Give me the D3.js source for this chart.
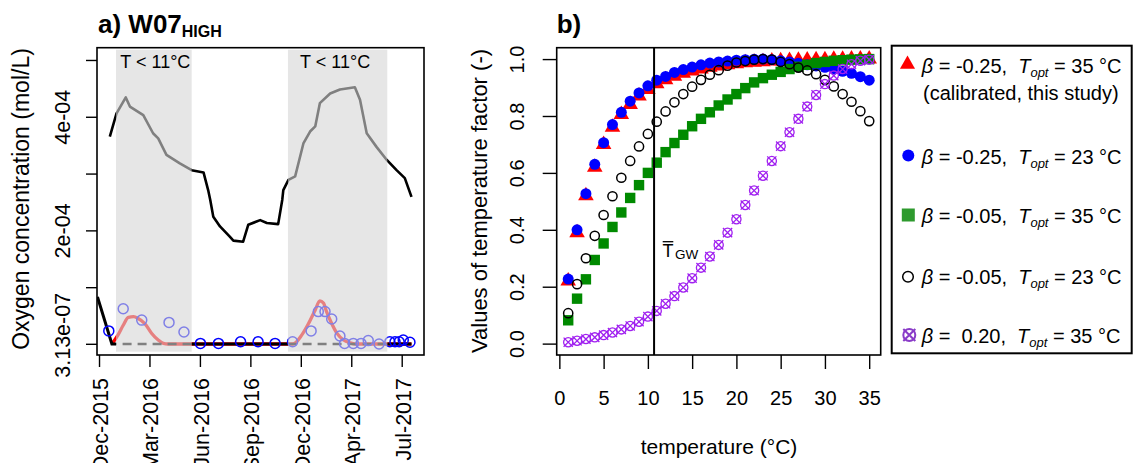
<!DOCTYPE html>
<html><head><meta charset="utf-8">
<script src="https://cdn.jsdelivr.net/npm/d3@7"></script>
<style>
body{margin:0;background:#fff}
svg{display:block;font-family:"Liberation Sans",Arial,Helvetica,sans-serif}
svg text{white-space:pre}
</style>
</head><body>
<svg id="c" width="1135" height="463"></svg>
<script>
// ---------------- Panel a data ----------------
const oxyDates = ["2015-12-22","2016-01-04","2016-01-22","2016-01-30","2016-02-25","2016-03-15","2016-03-25","2016-04-10","2016-05-06","2016-05-29","2016-06-21","2016-06-30","2016-07-04","2016-07-10","2016-07-23","2016-08-11","2016-08-18","2016-09-06","2016-09-16","2016-10-09","2016-10-22","2016-11-13","2016-11-21","2016-11-23","2016-12-03","2016-12-16","2017-01-01","2017-01-14","2017-01-24","2017-02-02","2017-02-22","2017-03-13","2017-04-11","2017-04-21","2017-05-04","2017-05-23","2017-06-12","2017-07-01","2017-07-17","2017-07-30"];
const oxyValues = [3.65e-4,4.06e-4,4.34e-4,4.18e-4,4.03e-4,3.71e-4,3.62e-4,3.33e-4,3.18e-4,3.06e-4,3.02e-4,2.71e-4,2.54e-4,2.24e-4,2.07e-4,1.89e-4,1.82e-4,1.80e-4,2.10e-4,2.18e-4,2.13e-4,2.11e-4,2.54e-4,2.71e-4,2.89e-4,2.95e-4,3.53e-4,3.74e-4,3.83e-4,4.24e-4,4.41e-4,4.48e-4,4.52e-4,4.30e-4,3.71e-4,3.47e-4,3.24e-4,3.06e-4,2.92e-4,2.59e-4];

const lowDates = ["2015-11-28","2015-12-26","2017-07-30"];
const lowValues = [0.83e-4, 0, 0];

const modelDates = ["2015-12-26","2016-01-07","2016-01-17","2016-01-27","2016-02-06","2016-02-15","2016-02-28","2016-03-12","2016-03-25","2016-04-04","2016-04-13","2016-12-12","2016-12-29","2017-01-11","2017-01-24","2017-02-02","2017-02-09","2017-02-15","2017-02-25","2017-03-07","2017-03-20","2017-04-02","2017-04-11","2017-07-30"];
const modelValues = [0,0.16e-4,0.33e-4,0.47e-4,0.48e-4,0.45e-4,0.36e-4,0.19e-4,0.07e-4,0.01e-4,0,0,0.16e-4,0.36e-4,0.60e-4,0.76e-4,0.72e-4,0.57e-4,0.36e-4,0.19e-4,0.07e-4,0.02e-4,0,0];

const obsDates = ["2015-12-20","2016-01-17","2016-02-22","2016-04-15","2016-05-14","2016-06-15","2016-07-20","2016-09-01","2016-10-05","2016-11-07","2016-12-11","2017-01-16","2017-01-30","2017-02-12","2017-02-25","2017-03-13","2017-03-22","2017-04-08","2017-04-23","2017-05-07","2017-05-28","2017-06-18","2017-06-28","2017-07-06","2017-07-14","2017-07-27"];
const obsValues = [0.23e-4,0.62e-4,0.42e-4,0.38e-4,0.21e-4,0.01e-4,0.01e-4,0.04e-4,0.04e-4,0.01e-4,0.04e-4,0.23e-4,0.57e-4,0.57e-4,0.44e-4,0.14e-4,0.01e-4,0.01e-4,0.01e-4,0.06e-4,0,0.04e-4,0.04e-4,0.04e-4,0.07e-4,0.03e-4];

const shadeStarts = ["2016-01-03","2016-12-02"];
const shadeEnds   = ["2016-05-29","2017-06-13"];
const shadeLabel = "T < 11°C";

const xTickDatesA = ["2015-12-01","2016-03-08","2016-06-14","2016-09-20","2016-12-27","2017-04-04","2017-07-11"];
const yTickValuesA = [3.13e-7,1e-4,2e-4,3e-4,4e-4,5e-4];
const yTickLabelsA = ["3.13e-07","","2e-04","","4e-04",""];

// ---------------- Panel b data ----------------
const temps = [1,2,3,4,5,6,7,8,9,10,11,12,13,14,15,16,17,18,19,20,21,22,23,24,25,26,27,28,29,30,31,32,33,34,35];
const fRed    = [0.22,0.39,0.52,0.62,0.70,0.76,0.805,0.84,0.87,0.893,0.913,0.927,0.94,0.95,0.958,0.965,0.971,0.976,0.98,0.984,0.987,0.989,0.991,0.993,0.994,0.995,0.996,0.997,0.998,0.998,0.999,0.999,1.0,1.0,1.0];
const fBlue   = [0.227,0.40,0.527,0.63,0.706,0.77,0.813,0.852,0.881,0.906,0.926,0.939,0.953,0.963,0.972,0.98,0.986,0.99,0.993,0.996,0.998,0.999,1.0,0.998,0.994,0.99,0.985,0.98,0.976,0.971,0.965,0.957,0.95,0.938,0.926];
const fGreen  = [0.082,0.158,0.226,0.294,0.352,0.41,0.461,0.512,0.557,0.60,0.636,0.673,0.705,0.734,0.764,0.79,0.813,0.837,0.858,0.877,0.898,0.918,0.933,0.945,0.955,0.965,0.973,0.98,0.986,0.99,0.994,0.996,0.998,0.999,1.0];
const fBlack  = [0.107,0.209,0.30,0.379,0.452,0.518,0.583,0.642,0.693,0.737,0.78,0.816,0.848,0.877,0.903,0.927,0.945,0.961,0.977,0.988,0.993,0.998,1.0,0.998,0.99,0.982,0.97,0.96,0.947,0.927,0.904,0.877,0.85,0.817,0.782];
const fPurple = [0.005,0.01,0.016,0.022,0.03,0.039,0.05,0.062,0.077,0.095,0.115,0.14,0.167,0.197,0.23,0.267,0.306,0.347,0.39,0.437,0.487,0.538,0.59,0.642,0.694,0.743,0.79,0.833,0.874,0.912,0.942,0.965,0.982,0.994,0.998];
const TGW = 10.7;
const xTicksB = [0,5,10,15,20,25,30,35];
const yTicksB = [0,0.2,0.4,0.6,0.8,1.0];
const legendBeta = ["-0.25","-0.25","-0.05","-0.05"," 0.20"];
const legendTopt = ["35","23","35","23","35"];

// ---------------- drawing ----------------
const parse = d3.utcParse("%Y-%m-%d");
const svg = d3.select("#c");
const defs = svg.append("defs");
const FS = 20, FSA = 21.5;

// Panel a geometry
const A = {l:97, r:424, t:47.7, b:355};
const xA = d3.scaleUtc().domain([Date.UTC(2015,10,27,2), Date.UTC(2017,7,23,7)]).range([A.l, A.r]);
const yA = d3.scaleLinear().domain([-0.194e-4, 5.216e-4]).range([A.b, A.t]);

defs.append("clipPath").attr("id","clipA").append("rect")
  .attr("x",A.l).attr("y",A.t).attr("width",A.r-A.l).attr("height",A.b-A.t);
const shades = shadeStarts.map((s,i)=>({s:parse(s), e:parse(shadeEnds[i])}));
const mask = defs.append("mask").attr("id","outShade").attr("maskUnits","userSpaceOnUse")
  .attr("x",0).attr("y",0).attr("width",1135).attr("height",463);
mask.append("rect").attr("x",0).attr("y",0).attr("width",1135).attr("height",463).attr("fill","#fff");
shades.forEach(s=>mask.append("rect").attr("x",xA(s.s)).attr("y",0).attr("width",xA(s.e)-xA(s.s)).attr("height",463).attr("fill","#000"));
const inClip = defs.append("clipPath").attr("id","inShade");
shades.forEach(s=>inClip.append("rect").attr("x",xA(s.s)).attr("y",0).attr("width",xA(s.e)-xA(s.s)).attr("height",463));

const gA = svg.append("g").attr("clip-path","url(#clipA)");
const lineA = d3.line().x(d=>xA(d.d)).y(d=>yA(d.v));
const toPts = (ds,vs)=>ds.map((d,i)=>({d:parse(d), v:vs[i]}));

// model (red)
gA.append("path").datum(toPts(modelDates,modelValues))
  .attr("d", lineA.curve(d3.curveMonotoneX)).attr("fill","none").attr("stroke","#ff0000").attr("stroke-width",3.3).attr("stroke-linejoin","round");
lineA.curve(d3.curveLinear);
// lower black line: solid outside shade, dashed inside
const lowPts = toPts(lowDates,lowValues);
gA.append("g").attr("mask","url(#outShade)").append("path").datum(lowPts)
  .attr("d",lineA).attr("fill","none").attr("stroke","#000").attr("stroke-width",3);
gA.append("g").attr("clip-path","url(#inShade)").append("path").datum(lowPts)
  .attr("d",lineA).attr("fill","none").attr("stroke","#000").attr("stroke-width",2.6).attr("stroke-dasharray","9,6");
// oxygen curve
gA.append("path").datum(toPts(oxyDates,oxyValues))
  .attr("d",lineA).attr("fill","none").attr("stroke","#000").attr("stroke-width",2.6).attr("stroke-linejoin","round");
// observed circles
gA.selectAll("circle.obs").data(toPts(obsDates,obsValues)).join("circle")
  .attr("cx",d=>xA(d.d)).attr("cy",d=>yA(d.v)).attr("r",5).attr("fill","none").attr("stroke","#0000ff").attr("stroke-width",1.5);
// shading overlay
const shTop = 5.18e-4, shBot = -0.136e-4;
gA.selectAll("rect.sh").data(shades).join("rect")
  .attr("x",d=>xA(d.s)).attr("width",d=>xA(d.e)-xA(d.s))
  .attr("y",yA(shTop)).attr("height",yA(shBot)-yA(shTop))
  .attr("fill","rgb(213,213,213)").attr("fill-opacity",0.6);
svg.selectAll("text.sl").data(shades).join("text")
  .attr("x",(d,i)=>(xA(d.s)+xA(d.e))/2 + (i===0?1.5:-2.5)).attr("y",68.3).attr("text-anchor","middle").attr("font-size",18).text(shadeLabel);

// frame a
svg.append("rect").attr("x",A.l).attr("y",A.t).attr("width",A.r-A.l).attr("height",A.b-A.t)
  .attr("fill","none").attr("stroke","#000").attr("stroke-width",1.6);

// axes a
const gxA = svg.append("g").attr("transform",`translate(0,${A.b})`)
  .call(d3.axisBottom(xA).tickValues(xTickDatesA.map(parse)).tickSize(12).tickFormat(d3.utcFormat("%b-%Y")));
gxA.select(".domain").remove();
gxA.attr("font-size",FSA).attr("font-family",null);
gxA.selectAll("line").attr("stroke-width",1.4);
gxA.selectAll("text").attr("y",null).attr("x",null).attr("dy","0.35em").attr("text-anchor","end")
  .attr("transform","translate(1,23) rotate(-90)").attr("fill","#000");

const gyA = svg.append("g").attr("transform",`translate(${A.l},0)`)
  .call(d3.axisLeft(yA).tickValues(yTickValuesA).tickSize(11).tickFormat((d,i)=>yTickLabelsA[i]));
gyA.select(".domain").remove();
gyA.attr("font-size",FSA).attr("font-family",null);
gyA.selectAll("line").attr("stroke-width",1.4);
gyA.selectAll("text").attr("x",(d,i)=>i===0?9:0).attr("dy",null).attr("text-anchor","middle")
  .attr("transform","translate(-27,0) rotate(-90)").attr("fill","#000");

svg.append("text").attr("transform","translate(28.5,199) rotate(-90)").attr("text-anchor","middle")
  .attr("font-size",23).text("Oxygen concentration (mol/L)");

const tA = svg.append("text").attr("x",98).attr("y",33.3).attr("font-size",26).attr("font-weight","bold");
tA.append("tspan").text("a) W07");
tA.append("tspan").attr("font-size",16).attr("dy",3.4).text("HIGH");

// ---------------- Panel b ----------------
const B = {l:556.7, r:880.7, t:47.7, b:355};
const xB = d3.scaleLinear().domain([-0.3,36.3]).range([B.l,B.r]);
const yB = d3.scaleLinear().domain([-0.04,1.04]).range([B.b,B.t]);
const gB = svg.append("g");
const RED="#ff0000", BLUE="#0000ff", GREEN="#008a00", PURPLE="#a020f0";
const triPath = (R)=>{const h=R*Math.sqrt(3)/2; return `M0,${-R}L${h},${R/2}L${-h},${R/2}Z`;};
const xPath = (s)=>`M${-s},${-s}L${s},${s}M${-s},${s}L${s},${-s}`;

gB.selectAll("path.red").data(temps).join("path")
  .attr("transform",(t,i)=>`translate(${xB(t)},${yB(fRed[i])})`).attr("d",triPath(9)).attr("fill",RED);
gB.selectAll("circle.blue").data(temps).join("circle")
  .attr("cx",t=>xB(t)).attr("cy",(t,i)=>yB(fBlue[i])).attr("r",5.5).attr("fill",BLUE);
gB.selectAll("rect.green").data(temps).join("rect")
  .attr("x",t=>xB(t)-5.2).attr("y",(t,i)=>yB(fGreen[i])-5.2).attr("width",10.4).attr("height",10.4).attr("fill",GREEN);
gB.selectAll("circle.blk").data(temps).join("circle")
  .attr("cx",t=>xB(t)).attr("cy",(t,i)=>yB(fBlack[i])).attr("r",4.6).attr("fill","none").attr("stroke","#000").attr("stroke-width",1.5);
const pg = gB.selectAll("g.pur").data(temps).join("g")
  .attr("transform",(t,i)=>`translate(${xB(t)},${yB(fPurple[i])})`);
pg.append("circle").attr("r",4.6).attr("fill","none").attr("stroke",PURPLE).attr("stroke-width",1.3);
pg.append("path").attr("d",xPath(4.6)).attr("stroke",PURPLE).attr("stroke-width",1.3);

// T_GW line
svg.append("line").attr("x1",xB(TGW)).attr("x2",xB(TGW)).attr("y1",B.t).attr("y2",B.b)
  .attr("stroke","#000").attr("stroke-width",2);
svg.append("text").attr("x",662.5).attr("y",256.7).attr("font-size",18).text("T");
svg.append("line").attr("x1",662.7).attr("x2",673.3).attr("y1",241.7).attr("y2",241.7).attr("stroke","#000").attr("stroke-width",1.3);
svg.append("text").attr("x",675).attr("y",258.5).attr("font-size",13.5).text("GW");

// frame b
svg.append("rect").attr("x",B.l).attr("y",B.t).attr("width",B.r-B.l).attr("height",B.b-B.t)
  .attr("fill","none").attr("stroke","#000").attr("stroke-width",1.6);

const gxB = svg.append("g").attr("transform",`translate(0,${B.b})`)
  .call(d3.axisBottom(xB).tickValues(xTicksB).tickSize(14).tickFormat(d3.format("d")));
gxB.select(".domain").remove();
gxB.attr("font-size",FS).attr("font-family",null);
gxB.selectAll("line").attr("stroke-width",1.4);
gxB.selectAll("text").attr("y",50).attr("dy",null).attr("fill","#000");

const gyB = svg.append("g").attr("transform",`translate(${B.l},0)`)
  .call(d3.axisLeft(yB).tickValues(yTicksB).tickSize(14).tickFormat(d3.format(".1f")));
gyB.select(".domain").remove();
gyB.attr("font-size",FS).attr("font-family",null);
gyB.selectAll("line").attr("stroke-width",1.4);
gyB.selectAll("text").attr("x",null).attr("dy",null).attr("text-anchor","middle")
  .attr("transform","translate(-32.7,0) rotate(-90)").attr("fill","#000");

svg.append("text").attr("transform","translate(486.5,201) rotate(-90)").attr("text-anchor","middle")
  .attr("font-size",22).text("Values of temperature factor (-)");
svg.append("text").attr("x",719).attr("y",454).attr("text-anchor","middle").attr("font-size",21).text("temperature (°C)");
svg.append("text").attr("x",556.7).attr("y",33.3).attr("font-size",26).attr("font-weight","bold").text("b)");

// ---------------- Legend ----------------
svg.append("rect").attr("x",891.7).attr("y",45.7).attr("width",240).attr("height",307.6)
  .attr("fill","#fff").attr("stroke","#000").attr("stroke-width",2);
const legY = [72.5,164,222.5,284,342.5];
legY.forEach((y,i)=>{
  const t = svg.append("text").attr("x",921.7).attr("y",y).attr("font-size",FS);
  t.append("tspan").attr("font-style","italic").text("β");
  t.append("tspan").text(" = "+legendBeta[i]+",  ");
  t.append("tspan").attr("font-style","italic").text("T");
  t.append("tspan").attr("font-style","italic").attr("font-size",13).attr("dy",4).text("opt");
  t.append("tspan").attr("dy",-4).text(" = "+legendTopt[i]+" °C");
});
svg.append("text").attr("x",923).attr("y",100).attr("font-size",FS).text("(calibrated, this study)");
const sx = 907.5;
svg.append("path").attr("transform",`translate(${sx},${legY[0]-8.2})`).attr("d",triPath(8.7)).attr("fill",RED);
svg.append("circle").attr("cx",sx+0.8).attr("cy",legY[1]-8.5).attr("r",6).attr("fill",BLUE);
svg.append("rect").attr("x",sx+0.8-6.5).attr("y",legY[2]-7.5-6.5).attr("width",13).attr("height",13).attr("fill","#2e9a2e");
svg.append("circle").attr("cx",sx+0.5).attr("cy",legY[3]-7.3).attr("r",5.3).attr("fill","none").attr("stroke","#000").attr("stroke-width",1.5);
const lp = svg.append("g").attr("transform",`translate(${sx+1.8},${legY[4]-7.5})`);
lp.append("circle").attr("r",6).attr("fill","none").attr("stroke","#8a3cc8").attr("stroke-width",2);
lp.append("path").attr("d",xPath(6)).attr("stroke","#8a3cc8").attr("stroke-width",2);
</script>
</body></html>
